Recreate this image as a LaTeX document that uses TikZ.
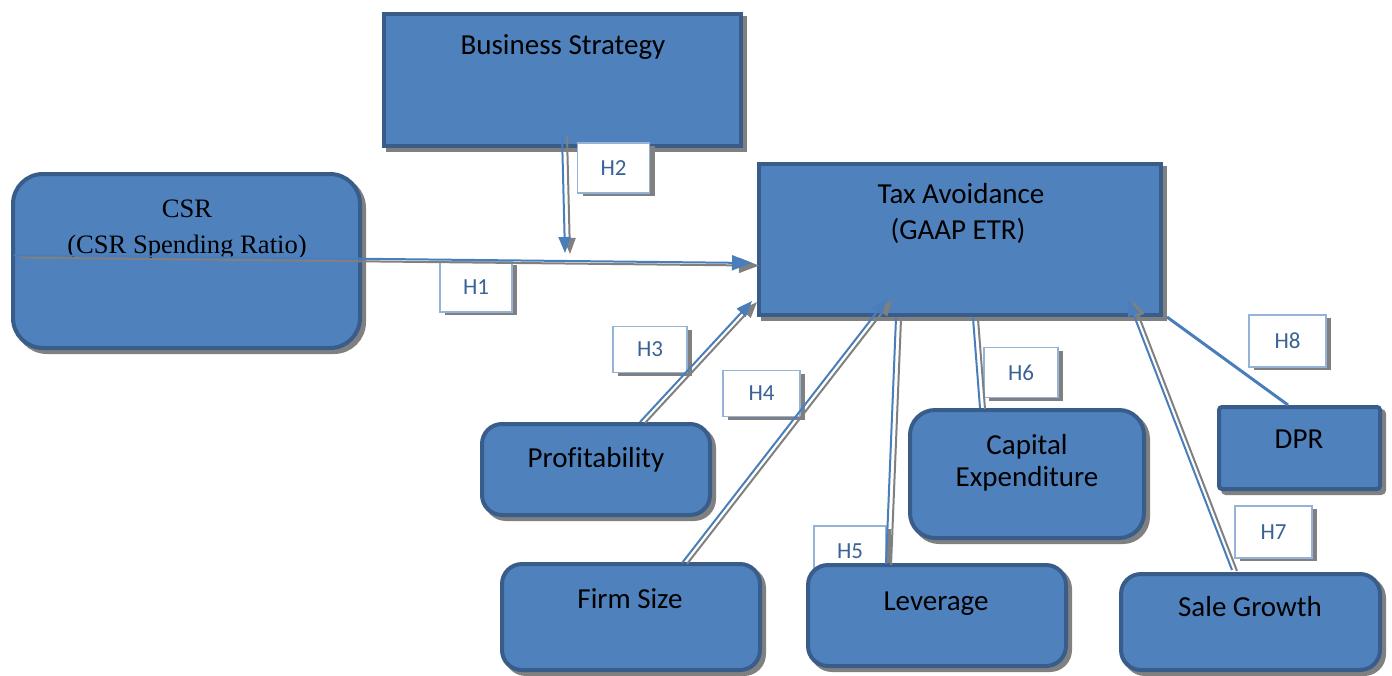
\documentclass[tikz,border=0pt]{standalone}
\usepackage{fontspec}
\setmainfont{Carlito}[Ligatures=NoCommon]
\newfontfamily\serifface{Liberation Serif}
\usetikzlibrary{shadows,arrows.meta}

\definecolor{boxfill}{RGB}{79,129,189}
\definecolor{boxedge}{RGB}{56,93,138}
\definecolor{boxshade}{RGB}{128,128,128}
\definecolor{hypedge}{RGB}{149,179,215}
\definecolor{hyptext}{RGB}{58,98,148}
\definecolor{lineblue}{RGB}{74,126,187}
\definecolor{lineshade}{RGB}{128,128,128}

\begin{document}
\begin{tikzpicture}[x=0.5pt,y=-0.5pt,
  sqbox/.style={draw=boxedge, fill=boxfill, line width=2pt, inner sep=0pt,
    outer sep=0pt, anchor=north west,
    general shadow={fill=boxshade, draw=boxshade, line width=2pt,
      shadow xshift=2pt, shadow yshift=-2pt}},
  rbox/.style={sqbox, rounded corners=11pt},
  txt/.style={anchor=base, inner sep=0pt, text=black,
    font=\fontsize{14.5pt}{17pt}\selectfont},
  serif/.style={anchor=base, inner sep=0pt, text=black,
    font=\serifface\fontsize{13.3pt}{16pt}\selectfont},
  hyp/.style={draw=hypedge, fill=white, line width=0.6pt, inner sep=0pt,
    minimum width=36pt, minimum height=25pt, text=hyptext,
    font=\fontsize{11.5pt}{13pt}\selectfont,
    general shadow={fill=boxshade, shadow xshift=2.5pt, shadow yshift=-1.5pt}},
  conn/.style={draw=lineblue, line width=1pt},
  connshade/.style={draw=lineshade, line width=1pt,
    transform canvas={xshift=2.5pt, yshift=-0.5pt}},
  tipA/.style={-{Triangle[length=10pt,width=7.5pt]}},
  tipB/.style={-{Triangle[length=8pt,width=6pt]}}
]
\useasboundingbox (0,0) rectangle (1392,675);

% top box and its hypothesis tag, which sits over the lower border
\node[sqbox, minimum width=178.5pt, minimum height=66pt] (bs) at (384,14) {};
\node[txt] (bs-t) at (563,54) {Business Strategy};
\node[hyp] (h2) at (613.5,168) {H2};

% hypothesis tags
\node[hyp] (h1) at (476,287) {H1};
\node[hyp, minimum width=37pt, minimum height=23pt] (h3) at (650,349.5) {H3};
\node[hyp, minimum width=38.5pt, minimum height=23pt] (h4) at (761.5,393.5) {H4};
\node[hyp] (h5) at (850,551) {H5};
\node[hyp, minimum width=37pt] (h6) at (1021,372.5) {H6};
\node[hyp, minimum width=38.5pt, minimum height=26pt] (h8) at (1287.5,341) {H8};
\node[hyp, minimum width=38.5pt, minimum height=26pt] (h7) at (1273.5,532) {H7};

% independent variable
\node[rbox, rounded corners=15pt, minimum width=173.5pt, minimum height=87pt] (csr) at (13,174) {};
\node[serif] (csr-t1) at (187,217) {CSR};
\begin{scope}
  \clip (11,172) rectangle (362,257);
  \node[serif] (csr-t2) at (187,253) {(CSR Spending Ratio)};
\end{scope}

% dependent variable
\node[sqbox, minimum width=201pt, minimum height=75.5pt] (tax) at (759,164) {};
\node[txt] (tax-t1) at (961,203) {Tax Avoidance};
\node[txt] (tax-t2) at (958,239) {(GAAP ETR)};

% control variables
\node[rbox, rounded corners=10pt, minimum width=114pt, minimum height=45.5pt] (prof) at (482,424) {};
\node[txt] (prof-t) at (596,467) {Profitability};

\node[rbox, rounded corners=10pt, minimum width=129pt, minimum height=53pt] (firm) at (502,564) {};
\node[txt] (firm-t) at (630,608) {Firm Size};

\node[rbox, rounded corners=10pt, minimum width=129pt, minimum height=50.5pt] (lev) at (808,565) {};
\node[txt] (lev-t) at (936,610) {Leverage};

\node[rbox, rounded corners=12.5pt, minimum width=117pt, minimum height=64pt] (capex) at (910,410) {};
\node[txt] (capex-t1) at (1027,454) {Capital};
\node[txt] (capex-t2) at (1027,486) {Expenditure};

\node[sqbox, rounded corners=1.5pt, minimum width=80.5pt, minimum height=41pt] (dpr) at (1219,407) {};
\node[txt] (dpr-t) at (1299,448) {DPR};

\node[rbox, rounded corners=10pt, minimum width=129.5pt, minimum height=48pt] (sale) at (1121,574) {};
\node[txt] (sale-t) at (1250,616) {Sale Growth};

% connector end points
\coordinate (h1s) at (14,255);   \coordinate (h1e) at (752,263);
\coordinate (h2s) at (562,135);  \coordinate (h2e) at (565,253);
\coordinate (h3s) at (640,422);  \coordinate (h3e) at (752,301);
\coordinate (h4s) at (682,563);  \coordinate (h4e) at (887,299);
\coordinate (h5s) at (886,564);  \coordinate (h5e) at (896,318);
\coordinate (h6s) at (980,408);  \coordinate (h6e) at (973,318);
\coordinate (h7s) at (1232,570); \coordinate (h7e) at (1128,300);
\coordinate (h8s) at (1288,405); \coordinate (h8e) at (1167,317);

% connectors: grey offset copy under a blue line
\draw[connshade, tipA, transform canvas={xshift=1pt, yshift=-0.8pt}] (h1s) -- (h1e);
\draw[conn, tipA] (h1s) -- (h1e);
\draw[connshade, tipB] (h2s) -- (h2e);
\draw[conn, tipB] (h2s) -- (h2e);
\draw[connshade, tipB] (h3s) -- (h3e);
\draw[conn, tipB] (h3s) -- (h3e);
\draw[connshade, tipB] (h4s) -- (h4e);
\draw[conn, tipB] (h4s) -- (h4e);
\draw[connshade] (h5s) -- (h5e);
\draw[conn] (h5s) -- (h5e);
\draw[connshade] (h6s) -- (h6e);
\draw[conn] (h6s) -- (h6e);
\draw[connshade, tipB] (h7s) -- (h7e);
\draw[conn, tipB] (h7s) -- (h7e);
\draw[conn, line width=1.5pt] (h8s) -- (h8e);
\end{tikzpicture}
\end{document}
